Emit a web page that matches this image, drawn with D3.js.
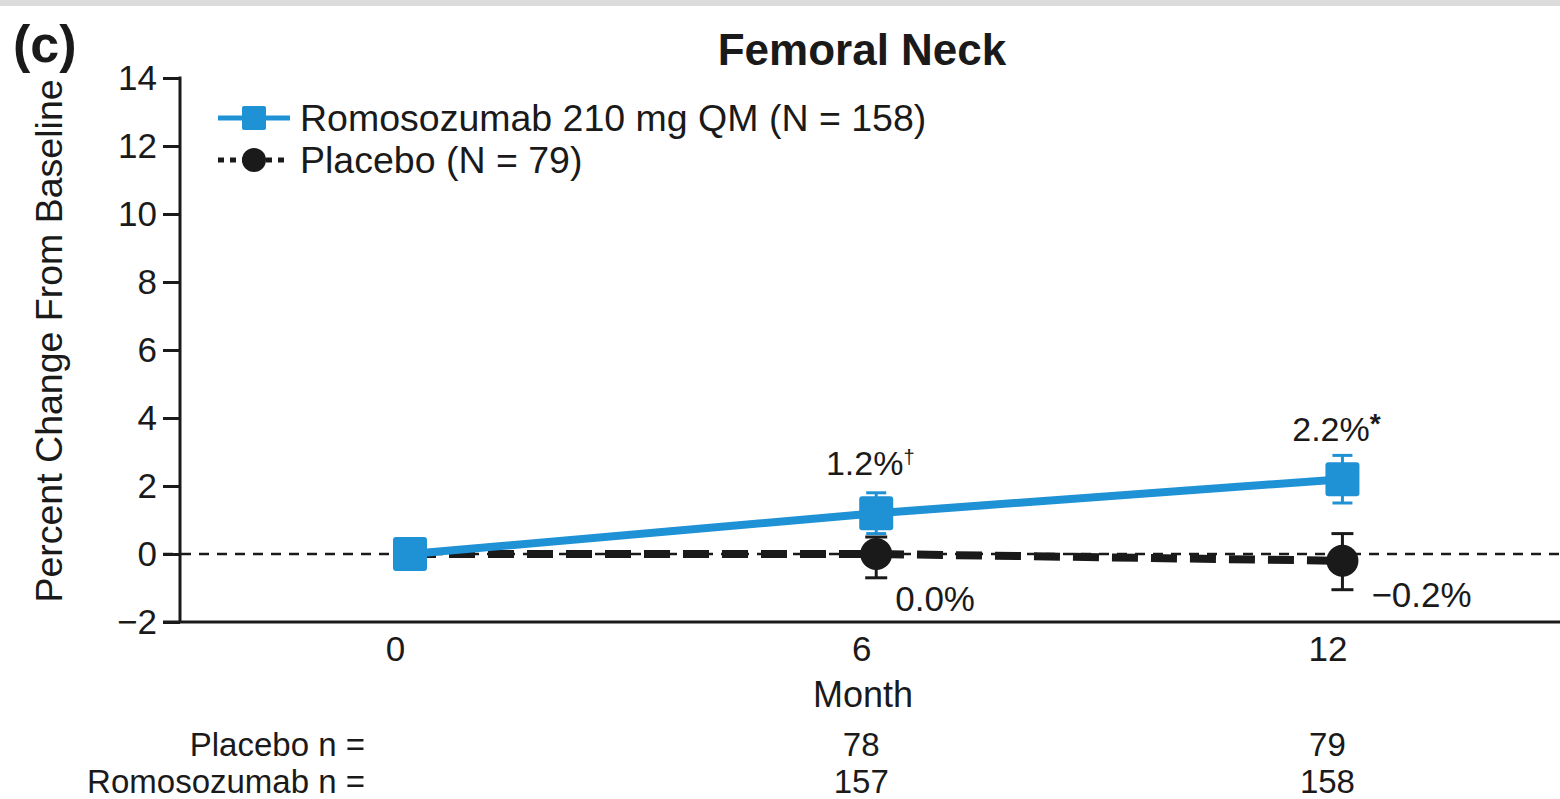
<!DOCTYPE html>
<html>
<head>
<meta charset="utf-8">
<script src="https://cdn.jsdelivr.net/npm/d3@7/dist/d3.min.js"></script>
<style>
  html, body { margin: 0; padding: 0; background: #fff; }
  svg { display: block; font-family: "Liberation Sans", Arial, sans-serif; }
</style>
</head>
<body>
<div id="chart"></div>
<script>
// data
const months = [0, 6, 12];
const romoMean = [0, 1.2, 2.2];
const romoLow = [0, 0.6, 1.5];
const romoHigh = [0, 1.8, 2.9];
const placeboMean = [0, 0.0, -0.2];
const placeboLow = [0, -0.7, -1.05];
const placeboHigh = [0, 0.5, 0.6];
const romoLabels = ["", "1.2%", "2.2%"];
const romoMarks = ["", "†", "*"];
const placeboLabels = ["", "0.0%", "\u22120.2%"];
const yTicks = [-2, 0, 2, 4, 6, 8, 10, 12, 14];
const xTicks = [0, 6, 12];
const tableMonths = [6, 12];
const placeboN = [78, 79];
const romoN = [157, 158];

const W = 1560, H = 799;
const blue = "#1f91d5";
const ink = "#1a1a1a";

const svg = d3.select("#chart").append("svg")
  .attr("width", W).attr("height", H);

// light grey strip at top of the scan
svg.append("rect").attr("x", 0).attr("y", 0).attr("width", W).attr("height", 6).attr("fill", "#dcdcdc");

// scales
const x = d3.scaleLinear().domain([-2.96, 14.8]).range([180, 1560]);
const y = d3.scaleLinear().domain([-2, 14]).range([622, 78]);

// y axis
const yAxis = svg.append("g")
  .attr("transform", `translate(${x(-2.96)},0)`)
  .call(d3.axisLeft(y).tickValues(yTicks).tickSize(17).tickPadding(6)
    .tickFormat(d => d < 0 ? "\u2212" + Math.abs(d) : d));
yAxis.select(".domain").remove();
yAxis.selectAll(".tick line").attr("stroke", ink).attr("stroke-width", 3);
yAxis.selectAll(".tick text").attr("font-size", 35).attr("fill", ink);
svg.append("line").attr("x1", 180).attr("x2", 180).attr("y1", y(14) - 1.5).attr("y2", y(-2))
  .attr("stroke", ink).attr("stroke-width", 3);

// x axis (labels only)
svg.append("line").attr("x1", 163).attr("x2", W).attr("y1", y(-2)).attr("y2", y(-2))
  .attr("stroke", ink).attr("stroke-width", 3);
const xAxis = svg.append("g")
  .attr("transform", `translate(-15,${y(-2)})`)
  .call(d3.axisBottom(x).tickValues(xTicks).tickSize(0).tickPadding(14));
xAxis.select(".domain").remove();
xAxis.selectAll(".tick text").attr("font-size", 35).attr("fill", ink);

// reference line at 0
svg.append("line").attr("x1", 163).attr("x2", W).attr("y1", y(0)).attr("y2", y(0))
  .attr("stroke", ink).attr("stroke-width", 2.5).attr("stroke-dasharray", "10,8");

const idx = d3.range(months.length);

// placebo line
svg.append("path")
  .attr("d", d3.line().x(i => x(months[i])).y(i => y(placeboMean[i]))(idx))
  .attr("fill", "none").attr("stroke", ink).attr("stroke-width", 8)
  .attr("stroke-dasharray", "26,13");

// romosozumab line
svg.append("path")
  .attr("d", d3.line().x(i => x(months[i])).y(i => y(romoMean[i]))(idx))
  .attr("fill", "none").attr("stroke", blue).attr("stroke-width", 8);

// error bars
function errBars(lo, hi, color, cap) {
  const g = svg.append("g").attr("stroke", color).attr("stroke-width", 3);
  idx.filter(i => hi[i] !== lo[i]).forEach(i => {
    const cx = x(months[i]);
    g.append("line").attr("x1", cx).attr("x2", cx).attr("y1", y(hi[i])).attr("y2", y(lo[i]));
    g.append("line").attr("x1", cx - cap).attr("x2", cx + cap).attr("y1", y(hi[i])).attr("y2", y(hi[i]));
    g.append("line").attr("x1", cx - cap).attr("x2", cx + cap).attr("y1", y(lo[i])).attr("y2", y(lo[i]));
  });
}
errBars(placeboLow, placeboHigh, ink, 11);
errBars(romoLow, romoHigh, blue, 10);

// markers
svg.append("g").selectAll("circle").data(idx).join("circle")
  .attr("cx", i => x(months[i])).attr("cy", i => y(placeboMean[i]))
  .attr("r", 16).attr("fill", ink);
svg.append("g").selectAll("rect").data(idx).join("rect")
  .attr("x", i => x(months[i]) - 17).attr("y", i => y(romoMean[i]) - 17)
  .attr("width", 34).attr("height", 34).attr("rx", 3).attr("fill", blue);

// value labels
const rl = svg.append("g").attr("font-size", 34).attr("fill", ink);
idx.filter(i => romoLabels[i]).forEach(i => {
  const t = rl.append("text").attr("x", x(months[i]) - 6).attr("y", y(romoMean[i]) - 38)
    .attr("text-anchor", "middle");
  t.append("tspan").text(romoLabels[i]);
  t.append("tspan").attr("font-size", i === 2 ? 28 : 20).attr("font-weight", i === 2 ? "bold" : "normal")
    .attr("dy", i === 2 ? -8 : -11).text(romoMarks[i]);
});
const pl = svg.append("g").attr("font-size", 35).attr("fill", ink);
idx.filter(i => placeboLabels[i]).forEach(i => {
  pl.append("text").attr("x", x(months[i]) + (i === 1 ? 19 : 29)).attr("y", y(placeboMean[i]) + (i === 1 ? 57 : 46))
    .text(placeboLabels[i]);
});

// titles
svg.append("text").attr("x", 13).attr("y", 62).attr("font-size", 52).attr("font-weight", "bold")
  .attr("fill", ink).text("(c)");
svg.append("text").attr("x", 862).attr("y", 65).attr("text-anchor", "middle")
  .attr("font-size", 44).attr("font-weight", "bold").attr("fill", ink).text("Femoral Neck");
svg.append("text").attr("transform", `translate(62,341) rotate(-90)`).attr("text-anchor", "middle")
  .attr("font-size", 37.5).attr("fill", ink).text("Percent Change From Baseline");
svg.append("text").attr("x", 863).attr("y", 707).attr("text-anchor", "middle")
  .attr("font-size", 36).attr("fill", ink).text("Month");

// legend
const lg = svg.append("g");
lg.append("line").attr("x1", 218).attr("x2", 290).attr("y1", 118).attr("y2", 118)
  .attr("stroke", blue).attr("stroke-width", 5);
lg.append("rect").attr("x", 242).attr("y", 106).attr("width", 24).attr("height", 24).attr("rx", 2).attr("fill", blue);
lg.append("line").attr("x1", 218).attr("x2", 290).attr("y1", 160).attr("y2", 160)
  .attr("stroke", ink).attr("stroke-width", 5).attr("stroke-dasharray", "6,6");
lg.append("circle").attr("cx", 254).attr("cy", 160).attr("r", 12).attr("fill", ink);
lg.append("text").attr("x", 300).attr("y", 131).attr("font-size", 37.5).attr("fill", ink)
  .text("Romosozumab 210 mg QM (N = 158)");
lg.append("text").attr("x", 300).attr("y", 173).attr("font-size", 37.5).attr("fill", ink)
  .text("Placebo (N = 79)");

// n at risk table
const tb = svg.append("g").attr("font-size", 33).attr("fill", ink);
tb.append("text").attr("x", 365).attr("y", 756).attr("text-anchor", "end").text("Placebo n =");
tb.append("text").attr("x", 365).attr("y", 793).attr("text-anchor", "end").text("Romosozumab n =");
tableMonths.forEach((m, j) => {
  tb.append("text").attr("x", x(m) - 15).attr("y", 756).attr("text-anchor", "middle").text(placeboN[j]);
  tb.append("text").attr("x", x(m) - 15).attr("y", 793).attr("text-anchor", "middle").text(romoN[j]);
});
</script>
</body>
</html>
